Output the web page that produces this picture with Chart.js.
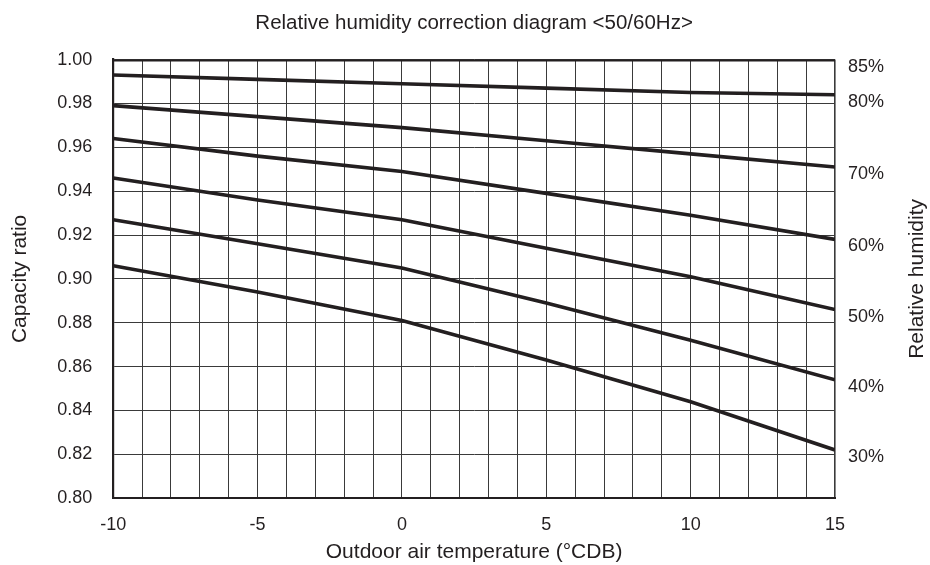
<!DOCTYPE html>
<html>
<head>
<meta charset="utf-8">
<script src="https://cdn.jsdelivr.net/npm/chart.js@4.4.1/dist/chart.umd.min.js"></script>
<style>
  body { margin: 0; background: #fff; }
  #wrap { width: 930px; height: 565px; position: relative; }
</style>
</head>
<body>
<div id="wrap"><canvas id="rhChart"></canvas></div>
<script>
// outdoor air temperature (°CDB)
var temps = [-10, -5, 0, 5, 10, 15];
var xTickLabels = [-10, -5, 0, 5, 10, 15];

// capacity ratio for each relative humidity curve
var rh85 = [1.000, 1.000, 1.000, 1.000, 1.000, 1.000];
var rh80 = [0.993, 0.991, 0.989, 0.987, 0.985, 0.984];
var rh70 = [0.979, 0.974, 0.969, 0.963, 0.957, 0.951];
var rh60 = [0.964, 0.956, 0.949, 0.939, 0.929, 0.918];
var rh50 = [0.946, 0.936, 0.927, 0.914, 0.901, 0.886];
var rh40 = [0.927, 0.916, 0.905, 0.889, 0.872, 0.854];
var rh30 = [0.906, 0.894, 0.881, 0.863, 0.844, 0.822];

var rhNames = ['85%', '80%', '70%', '60%', '50%', '40%', '30%'];
var rhSeries = [rh85, rh80, rh70, rh60, rh50, rh40, rh30];

var INK = '#231f20';
var FONT = '"Liberation Sans", Arial, Helvetica, sans-serif';

function toPoints(vals) {
  return vals.map(function (v, i) { return { x: temps[i], y: v }; });
}

var datasets = rhSeries.map(function (vals, i) {
  return {
    label: rhNames[i],
    data: toPoints(vals),
    borderColor: INK,
    borderWidth: 3.6,
    pointRadius: 0,
    tension: 0,
    fill: false
  };
});

// names of the curves at their right ends, plus the right-hand axis title
var curveNames = {
  id: 'curveNames',
  afterDraw: function (chart) {
    var ctx = chart.ctx;
    var area = chart.chartArea;
    ctx.save();
    ctx.fillStyle = INK;
    ctx.font = '18px ' + FONT;
    ctx.textAlign = 'left';
    ctx.textBaseline = 'middle';
    chart.data.datasets.forEach(function (ds, i) {
      var meta = chart.getDatasetMeta(i);
      var last = meta.data[meta.data.length - 1];
      ctx.fillText(ds.label, area.right + 13, last.y + 7);
    });
    ctx.font = '21px ' + FONT;
    ctx.translate(917, (area.top + area.bottom) / 2);
    ctx.rotate(-Math.PI / 2);
    ctx.textAlign = 'center';
    ctx.fillText('Relative humidity', 0, 0);
    ctx.restore();
  }
};

var ctx = document.getElementById('rhChart').getContext('2d');
var rhChart = new Chart(ctx, {
  type: 'line',
  data: { datasets: datasets },
  options: {
    responsive: true,
    maintainAspectRatio: false,
    animation: false,
    layout: { padding: { left: 0, right: 95, top: 0, bottom: 0 } },
    plugins: {
      legend: { display: false },
      tooltip: { enabled: false },
      title: {
        display: true,
        text: 'Relative humidity correction diagram <50/60Hz>',
        color: INK,
        font: { family: FONT, size: 20.5, weight: 'normal' },
        fullSize: false,
        padding: { top: 11, bottom: 24 }
      }
    },
    scales: {
      x: {
        type: 'linear',
        min: -10,
        max: 15,
        ticks: {
          stepSize: 1,
          autoSkip: false,
          maxRotation: 0,
          padding: 16,
          color: INK,
          font: { family: FONT, size: 18 },
          callback: function (v) { return xTickLabels.indexOf(v) >= 0 ? String(v) : ''; }
        },
        grid: {
          color: '#3a3a3a',
          lineWidth: function (c) { return c.tick && c.tick.value === 15 ? 1.6 : 1; },
          drawTicks: false
        },
        border: { color: INK, width: 2 },
        title: {
          display: true,
          text: 'Outdoor air temperature (°CDB)',
          color: INK,
          font: { family: FONT, size: 21 },
          padding: { top: -12, bottom: 0 }
        }
      },
      y: {
        min: 0.8,
        max: 1.0,
        ticks: {
          stepSize: 0.02,
          padding: 21,
          color: INK,
          font: { family: FONT, size: 18 },
          callback: function (v) { return v.toFixed(2); }
        },
        grid: {
          color: '#3a3a3a',
          lineWidth: 1,
          drawTicks: false
        },
        border: { color: INK, width: 2.2 },
        title: {
          display: true,
          text: 'Capacity ratio',
          color: INK,
          font: { family: FONT, size: 21 },
          padding: { top: 8, bottom: 3 }
        }
      }
    }
  },
  plugins: [curveNames]
});
</script>
</body>
</html>
